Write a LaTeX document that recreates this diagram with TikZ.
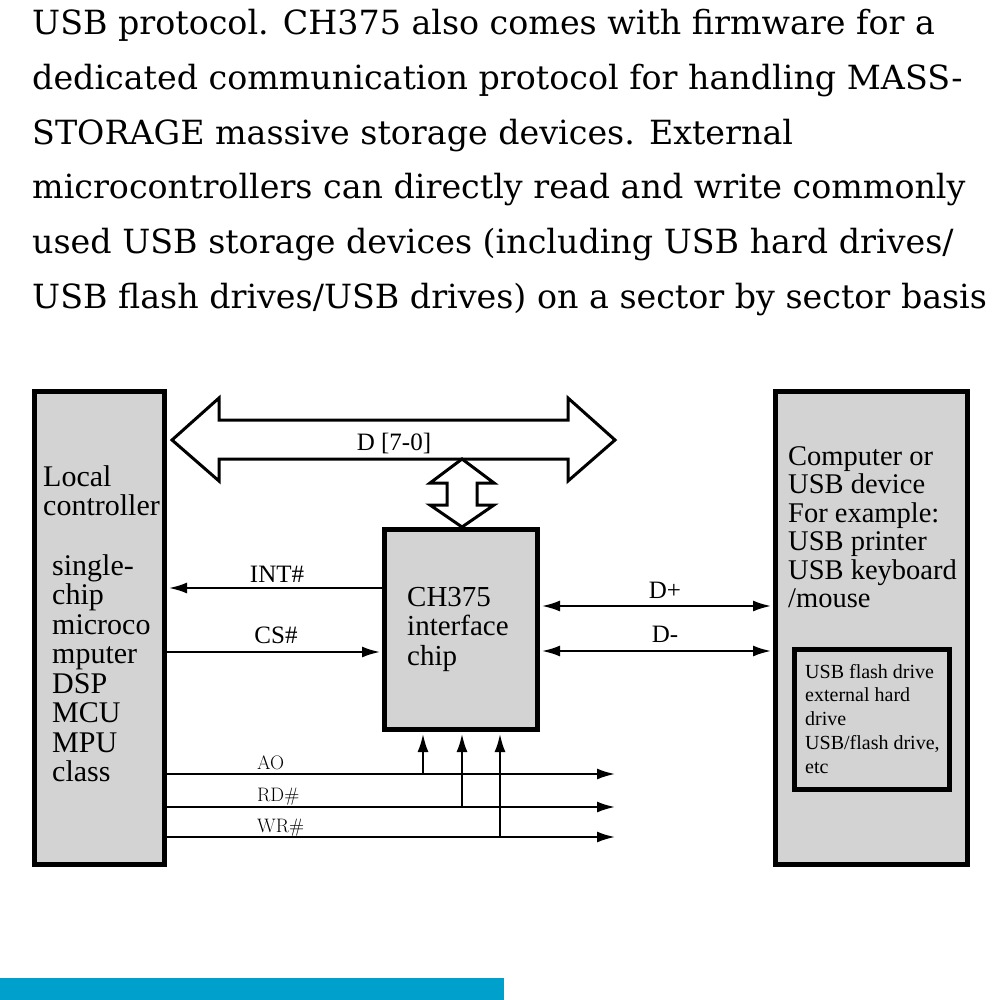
\documentclass[tikz,border=0pt]{standalone}
\usepackage{fontspec}
\setmainfont{Liberation Serif}
\newfontfamily\parafont{DejaVu Serif}
\newfontfamily\pinfont{Latin Modern Roman}
\usetikzlibrary{arrows.meta,positioning}
\definecolor{boxgray}{RGB}{211,211,211}
\definecolor{barcyan}{RGB}{0,160,204}
\tikzset{
  blk/.style={draw, line width=5pt, fill=boxgray, inner sep=0pt},
  sig/.style={line width=2pt, -{Latex[length=18pt,width=11pt]}, shorten >=2pt},
  dsig/.style={line width=2pt, {Latex[length=18pt,width=11pt]}-{Latex[length=18pt,width=11pt]}, shorten >=2pt, shorten <=2pt},
  bus/.style={draw, line width=3pt, fill=white, line join=miter},
  para/.style={anchor=base west, inner sep=0pt, font=\parafont\fontsize{33.3}{33}\selectfont},
  txt/.style={anchor=base west, inner sep=0pt, font=\fontsize{30}{30}\selectfont},
  small/.style={anchor=base west, inner sep=0pt, font=\fontsize{20}{20}\selectfont},
  lbl/.style={anchor=base, inner sep=0pt, font=\fontsize{25}{25}\selectfont},
  pin/.style={anchor=base west, inner sep=0pt, font=\pinfont\fontsize{19.5}{19.5}\selectfont}
}
\begin{document}
\begin{tikzpicture}[x=1pt, y=-1pt]
  \useasboundingbox (0,0) rectangle (1000,1000);
  % text above the figure
  \foreach \t [count=\i from 0] in {USB protocol. CH375 also comes with firmware for a,
      dedicated communication protocol for handling MASS-,
      STORAGE massive storage devices. External,
      microcontrollers can directly read and write commonly,
      used USB storage devices (including USB hard drives/,
      USB flash drives/USB drives) on a sector by sector basis}
    \node[para] (p\i) at (32, 35+54.6*\i) {\t};
  % blocks
  \node[blk, minimum width=130pt, minimum height=473pt] (ctrl) at (99.5,628) {};
  \node[blk, minimum width=192pt, minimum height=473pt] (host) at (871.5,628) {};
  \node[blk, minimum width=155pt, minimum height=140pt] (stor) at (872,719.5) {};
  % data bus
  \draw[bus] (172,440) -- (219,398) -- (219,420) -- (568,420) -- (568,398) -- (615,440)
    -- (568,481) -- (568,459) -- (219,459) -- (219,481) -- cycle;
  \draw[bus] (462,459) -- (494,483) -- (477,483) -- (477,505) -- (494,505) -- (462,527)
    -- (430,505) -- (447,505) -- (447,483) -- (430,483) -- cycle;
  \node[lbl] (dbus) at (394,450) {D [7-0]};
  \node[blk, minimum width=153pt, minimum height=200pt] (chip) at (461,629.5) {};
  % texts in the blocks
  \foreach \t [count=\i from 0] in {Local, controller}
    \node[txt] (c\i) at (43, 486+29.5*\i) {\t};
  \foreach \t [count=\i from 0] in {single-, chip, microco, mputer, DSP, MCU, MPU, class}
    \node[txt] (m\i) at (52, 575+29.5*\i) {\t};
  \foreach \t [count=\i from 0] in {CH375, interface, chip}
    \node[txt, font=\fontsize{29}{29}\selectfont] (h\i) at (407, 606+29.5*\i) {\t};
  \foreach \t [count=\i from 0] in {Computer or, USB device, For example:, USB printer, USB keyboard, /mouse}
    \node[txt, font=\fontsize{28.5}{28.5}\selectfont] (u\i) at (788, 465+28.5*\i) {\t};
  \foreach \t [count=\i from 0] in {USB flash drive, external hard, drive, {USB/flash drive,}, etc}
    \node[small] (s\i) at (805, 678+23.8*\i) {\t};
  % signal levels
  \coordinate (yint) at (0,588);
  \coordinate (ycs) at (0,652);
  \coordinate (ydp) at (0,606);
  \coordinate (ydm) at (0,651);
  \coordinate (ya) at (0,774);
  \coordinate (yrd) at (0,807);
  \coordinate (ywr) at (0,837);
  \coordinate (xend) at (617,0);
  \coordinate (xa) at (423,0);
  \coordinate (xrd) at (462,0);
  \coordinate (xwr) at (500,0);
  % signals
  \draw[sig] (chip.west |- yint) -- (ctrl.east |- yint);
  \node[lbl] (lint) at (277,582) {INT\#};
  \draw[sig] (ctrl.east |- ycs) -- (chip.west |- ycs);
  \node[lbl] (lcs) at (276,643) {CS\#};
  \draw[dsig] (chip.east |- ydp) -- (host.west |- ydp);
  \node[lbl] (ldp) at (665,598) {D+};
  \draw[dsig] (chip.east |- ydm) -- (host.west |- ydm);
  \node[lbl] (ldm) at (665,642) {D-};
  \draw[sig] (ctrl.east |- ya) -- (xend |- ya);
  \draw[sig] (ctrl.east |- yrd) -- (xend |- yrd);
  \draw[sig] (ctrl.east |- ywr) -- (xend |- ywr);
  \draw[sig] (xa |- ya) -- (xa |- chip.south);
  \draw[sig] (xrd |- yrd) -- (xrd |- chip.south);
  \draw[sig] (xwr |- ywr) -- (xwr |- chip.south);
  \node[pin] (la) at (257,769) {AO};
  \node[pin] (lrd) at (257,801) {RD\#};
  \node[pin] (lwr) at (257,832) {WR\#};
  % strip at the bottom
  \fill[barcyan] (0,978) rectangle (504,1000);
\end{tikzpicture}
\end{document}
